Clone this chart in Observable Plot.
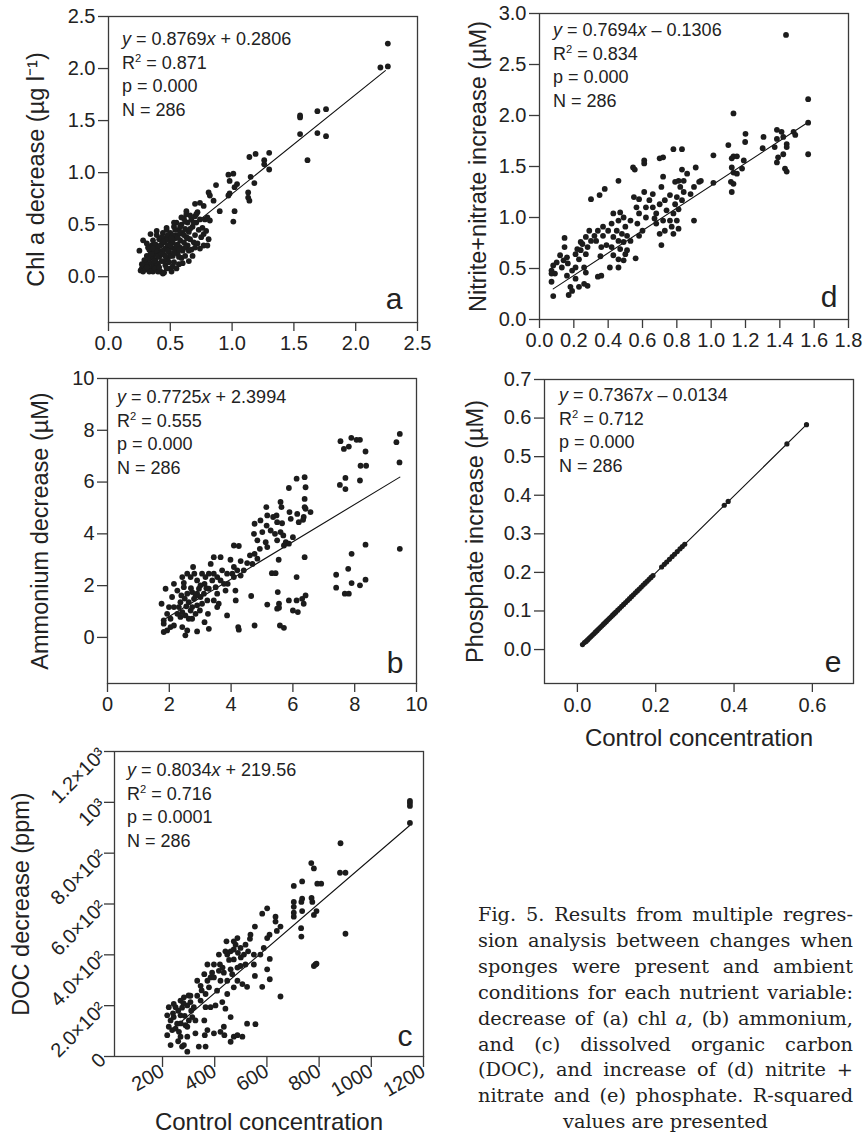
<!DOCTYPE html>
<html>
<head>
<meta charset="utf-8">
<script src="https://cdn.jsdelivr.net/npm/d3@7"></script>
<script src="https://cdn.jsdelivr.net/npm/@observablehq/plot@0.6"></script>
<style>
  html, body { margin: 0; padding: 0; background: #fff; }
  #page { position: relative; width: 863px; height: 1136px; overflow: hidden; background: #fff; }
  .panel { position: absolute; }
  .panel svg { overflow: visible; }
  .ann { position: absolute; font-family: "Liberation Sans", Arial, Helvetica, sans-serif; font-size: 18px; line-height: 23.5px; color: #222; white-space: nowrap; }
  .ann sup { font-size: 0.62em; line-height: 0; vertical-align: 0.6em; }
  #caption { position: absolute; left: 478px; top: 902px; width: 375px; font-family: "DejaVu Serif", "Liberation Serif", serif; font-size: 19.3px; line-height: 25.9px; color: #222; }
  #caption div { white-space: nowrap; text-align: justify; text-align-last: justify; }
  #caption div.last { text-align: center; text-align-last: center; }
</style>
</head>
<body>
<div id="page"></div>
<script>
// ---------------- DATA ----------------
// Panel a: Chl a (control concentration, decrease)
const chlPoints = [
  [0.25,0.25],[0.26,0.06],[0.27,0.08],[0.28,0.05],[0.29,0.10],[0.30,0.07],[0.30,0.14],[0.31,0.20],[0.31,0.32],[0.32,0.12],
  [0.33,0.17],[0.33,0.26],[0.34,0.08],[0.34,0.22],[0.35,0.30],[0.35,0.13],[0.36,0.19],[0.36,0.35],[0.37,0.10],[0.37,0.26],
  [0.38,0.16],[0.38,0.31],[0.39,0.22],[0.39,0.40],[0.40,0.12],[0.40,0.28],[0.41,0.19],[0.41,0.36],[0.42,0.05],[0.42,0.24],
  [0.43,0.31],[0.43,0.15],[0.44,0.42],[0.44,0.03],[0.45,0.21],[0.45,0.33],[0.46,0.27],[0.46,0.11],[0.47,0.38],[0.47,0.45],
  [0.48,0.18],[0.48,0.30],[0.49,0.24],[0.49,0.35],[0.50,0.08],[0.50,0.42],[0.51,0.05],[0.51,0.28],[0.52,0.33],[0.52,0.20],
  [0.53,0.48],[0.53,0.14],[0.54,0.37],[0.54,0.26],[0.55,0.40],[0.55,0.52],[0.56,0.22],[0.56,0.31],[0.57,0.45],[0.57,0.12],
  [0.58,0.35],[0.58,0.28],[0.59,0.50],[0.59,0.18],[0.60,0.42],[0.60,0.25],[0.61,0.56],[0.61,0.33],[0.62,0.46],[0.62,0.20],
  [0.63,0.38],[0.63,0.60],[0.64,0.30],[0.64,0.52],[0.65,0.43],[0.65,0.15],[0.66,0.36],[0.67,0.55],[0.67,0.26],[0.68,0.48],
  [0.69,0.33],[0.70,0.58],[0.70,0.40],[0.71,0.52],[0.72,0.32],[0.72,0.62],[0.73,0.45],[0.74,0.55],[0.75,0.38],[0.76,0.47],
  [0.77,0.30],[0.78,0.55],[0.79,0.44],[0.33,0.05],[0.36,0.05],[0.38,0.08],[0.40,0.05],[0.45,0.04],[0.47,0.08],[0.49,0.14],
  [0.52,0.10],[0.55,0.08],[0.57,0.19],[0.60,0.13],[0.62,0.28],[0.65,0.25],[0.68,0.20],[0.70,0.28],[0.40,0.20],[0.42,0.30],
  [0.44,0.25],[0.46,0.36],[0.48,0.40],[0.50,0.30],[0.52,0.40],[0.54,0.45],[0.56,0.38],[0.58,0.42],[0.50,0.20],[0.45,0.15],
  [0.43,0.38],[0.38,0.25],[0.35,0.22],[0.32,0.28],[0.29,0.16],[0.27,0.12],[0.28,0.35],[0.34,0.41],[0.39,0.44],[0.47,0.47],
  [0.53,0.52],[0.59,0.57],[0.63,0.63],[0.66,0.59],[0.71,0.60],[0.80,0.57],[0.82,0.54],[0.81,0.36],[0.80,0.30],[0.77,0.41],
  [0.74,0.27],[0.70,0.70],[0.74,0.71],[0.77,0.68],[0.81,0.81],[0.82,0.78],[0.85,0.73],[0.87,0.88],[0.90,0.63],[0.97,0.98],
  [1.01,0.99],[1.04,0.89],[1.02,0.86],[0.98,0.80],[0.97,0.78],[0.98,0.92],[1.02,0.63],[1.01,0.53],[1.13,0.81],[1.13,0.76],
  [1.14,0.73],[1.15,0.96],[1.18,0.90],[1.19,1.18],[1.14,1.15],[1.30,1.19],[1.26,1.12],[1.26,1.08],[1.30,1.03],[1.61,1.12],
  [1.55,1.37],[1.69,1.38],[1.76,1.35],[1.55,1.55],[1.55,1.53],[1.69,1.59],[1.76,1.61],[2.20,2.01],[2.26,2.02],[2.26,2.24],
  [0.31,0.09],[0.39,0.13],[0.41,0.09],[0.43,0.22],[0.47,0.17],[0.51,0.37],[0.55,0.30],[0.57,0.26],[0.61,0.40],[0.64,0.37],
  [0.66,0.46],[0.69,0.52],[0.36,0.27],[0.44,0.34],[0.48,0.25],[0.53,0.23],[0.58,0.48],[0.62,0.53],[0.37,0.15],[0.46,0.20]
];
// Panel d: nitrite+nitrate
const nitPoints = [
  [1.436,2.79],[1.565,2.16],[1.565,1.93],[1.565,1.62],[1.13,2.02],[1.20,1.82],[1.198,1.74],[1.10,1.71],[1.305,1.79],[1.30,1.68],
  [1.383,1.86],[1.41,1.84],[1.42,1.79],[1.383,1.77],[1.37,1.69],[1.39,1.59],[1.383,1.54],[1.42,1.62],[1.44,1.72],[1.44,1.69],
  [1.43,1.48],[1.44,1.45],[1.48,1.84],[1.49,1.81],[1.13,1.60],[1.12,1.58],[1.15,1.60],[1.12,1.49],[1.13,1.44],[1.15,1.43],
  [1.115,1.35],[1.13,1.33],[1.12,1.25],[1.19,1.56],[1.18,1.48],[1.013,1.61],[1.013,1.34],[0.91,1.49],[0.93,1.35],[0.90,1.30],
  [0.90,0.97],[0.83,1.67],[0.78,1.67],[0.83,1.47],[0.86,1.43],[0.81,1.36],[0.79,1.35],[0.82,1.30],[0.84,1.25],[0.80,1.20],
  [0.83,1.17],[0.79,1.13],[0.81,1.08],[0.78,1.04],[0.80,0.97],[0.77,0.91],[0.81,0.89],[0.78,0.84],[0.72,1.59],[0.70,1.58],
  [0.72,1.40],[0.71,1.30],[0.66,1.23],[0.73,1.17],[0.70,1.13],[0.74,1.07],[0.68,1.04],[0.72,0.97],[0.68,0.94],[0.73,0.87],
  [0.70,0.84],[0.71,0.73],[0.61,1.56],[0.61,1.53],[0.61,1.25],[0.62,1.10],[0.58,1.04],[0.62,1.00],[0.57,0.94],[0.60,0.87],
  [0.58,0.82],[0.545,1.49],[0.555,1.47],[0.55,1.20],[0.58,1.18],[0.56,0.60],[0.46,1.36],[0.38,1.28],[0.35,1.22],[0.30,1.18],
  [0.43,1.04],[0.47,1.05],[0.49,1.00],[0.46,0.97],[0.42,0.94],[0.50,0.91],[0.45,0.87],[0.48,0.84],[0.51,0.82],[0.43,0.81],
  [0.46,0.77],[0.49,0.76],[0.42,0.71],[0.47,0.69],[0.51,0.68],[0.43,0.63],[0.46,0.59],[0.50,0.64],[0.41,0.51],[0.46,0.51],
  [0.37,0.91],[0.34,0.87],[0.37,0.82],[0.33,0.77],[0.36,0.71],[0.39,0.73],[0.355,0.62],[0.36,0.43],[0.34,0.42],[0.29,0.87],
  [0.27,0.81],[0.30,0.77],[0.25,0.74],[0.28,0.71],[0.24,0.68],[0.27,0.64],[0.21,0.64],[0.23,0.59],[0.26,0.51],[0.27,0.46],
  [0.21,0.51],[0.19,0.48],[0.21,0.40],[0.26,0.35],[0.28,0.33],[0.23,0.32],[0.19,0.28],[0.18,0.32],[0.17,0.24],[0.146,0.80],
  [0.146,0.71],[0.16,0.61],[0.14,0.58],[0.165,0.55],[0.13,0.51],[0.16,0.43],[0.10,0.56],[0.08,0.53],[0.07,0.48],[0.09,0.45],
  [0.07,0.45],[0.07,0.37],[0.08,0.23],[0.12,0.63],[0.22,0.69],[0.24,0.76],[0.32,0.82],[0.40,0.87],[0.53,0.97],[0.565,1.10],
  [0.64,1.17],[0.66,1.10],[0.67,0.99],[0.76,1.22],[0.88,1.23],[0.94,1.36],[0.84,1.36],[0.76,0.97],[0.53,0.77],[0.49,0.58]
];
// Panel b: ammonium
const ammPoints = [
  [7.54,7.58],[7.65,7.28],[7.81,7.37],[7.89,7.71],[8.06,7.63],[8.17,7.63],[8.35,7.18],[8.19,6.63],[8.37,6.63],[8.17,6.06],
  [7.70,6.16],[7.52,5.89],[7.70,5.73],[9.35,7.54],[9.46,7.86],[9.45,6.76],[9.46,3.42],[8.35,3.58],[7.90,3.23],[7.79,2.65],
  [7.40,2.42],[7.40,1.92],[7.68,1.69],[7.81,1.69],[7.90,2.10],[8.17,2.01],[8.35,2.23],[6.38,6.19],[6.12,6.13],[6.41,5.80],
  [5.87,5.77],[6.38,5.35],[6.38,5.03],[6.41,4.97],[6.57,4.84],[6.35,4.65],[6.19,4.45],[6.33,4.54],[6.14,4.77],[5.89,4.84],
  [5.93,4.58],[5.60,5.23],[5.63,5.03],[5.47,4.71],[5.49,4.45],[5.65,4.41],[5.60,4.07],[5.42,4.00],[5.69,3.94],[5.49,3.75],
  [5.77,3.68],[5.87,3.62],[5.71,3.55],[6.00,3.87],[5.28,4.13],[5.17,4.71],[5.14,5.03],[5.36,4.65],[5.15,4.32],[4.95,4.52],
  [5.01,4.07],[4.85,3.75],[5.12,3.68],[5.17,3.49],[4.93,3.42],[4.76,4.39],[4.74,4.00],[4.76,3.23],[4.61,3.17],[4.85,3.04],
  [4.69,2.84],[5.54,3.00],[5.32,2.48],[5.44,2.48],[6.38,3.10],[6.12,2.33],[6.41,1.62],[6.30,1.49],[6.35,1.30],[6.12,1.43],
  [5.87,1.43],[6.00,1.04],[6.16,0.98],[5.51,1.75],[5.55,1.30],[5.55,1.15],[5.49,1.11],[5.17,1.27],[5.58,0.46],[5.71,0.37],
  [4.65,1.60],[4.76,0.46],[4.25,0.30],[4.23,0.40],[4.09,3.55],[4.25,3.53],[3.98,3.00],[4.09,2.72],[4.31,2.95],[4.52,2.87],
  [4.41,2.59],[4.20,2.59],[4.04,2.46],[4.31,2.39],[4.14,1.81],[3.89,2.07],[4.15,1.43],[3.87,0.85],[4.09,2.33],[1.75,1.30],
  [1.88,1.88],[1.82,0.66],[1.82,0.53],[1.82,0.21],[1.93,0.27],[2.04,0.40],[2.15,0.46],[1.99,1.17],[2.09,1.56],[2.15,2.07],
  [2.42,2.33],[2.39,1.62],[2.31,1.17],[2.36,0.79],[2.52,0.08],[2.42,0.40],[2.47,2.11],[2.58,1.69],[2.63,1.36],[2.69,1.04],
  [2.74,0.72],[2.77,2.72],[2.81,2.46],[2.90,2.20],[2.96,1.88],[3.01,1.56],[2.90,1.24],[2.85,0.91],[2.90,0.23],[3.06,2.46],
  [3.14,2.07],[3.23,1.43],[3.28,2.46],[3.25,0.91],[3.28,0.33],[3.44,3.10],[3.34,2.84],[3.55,2.33],[3.50,1.94],[3.55,1.69],
  [3.66,3.10],[3.71,2.59],[3.77,2.07],[3.82,1.81],[3.60,1.30],[3.87,2.46],[2.58,0.27],[2.52,0.85],[2.63,0.72],[2.36,1.36],
  [2.26,1.81],[2.47,1.94],[2.74,1.75],[2.80,1.49],[3.01,2.01],[3.12,1.69],[3.06,1.30],[3.28,1.88],[3.39,2.20],[3.44,2.46],
  [3.66,2.20],[3.17,2.33],[2.69,2.33],[2.58,2.46],[2.90,1.69],[2.15,1.17],[2.26,0.91],[2.04,0.72],[1.93,0.91],[2.42,0.98],
  [2.74,1.17],[2.99,1.04],[3.14,0.59],[3.44,1.43],[3.55,1.17],[2.50,1.50],[2.70,1.90],[2.55,1.20],[2.85,1.60],[3.20,1.90]
];
// Panel c: DOC
const docPoints = [
  [1148,997],[1148,1006],[1148,986],[1148,919],[882,839],[880,723],[901,723],[901,483],[808,680],[793,680],
  [770,761],[780,740],[771,624],[774,608],[790,572],[780,557],[786,362],[780,356],[790,365],[703,671],
  [703,608],[703,589],[703,550],[735,689],[735,621],[732,608],[735,572],[731,505],[732,472],[703,566],
  [601,583],[582,562],[633,550],[633,531],[638,494],[652,511],[610,479],[601,466],[611,384],[601,343],
  [611,304],[652,236],[582,274],[524,274],[554,511],[535,463],[518,440],[528,414],[550,401],[554,317],
  [499,427],[489,408],[487,350],[499,356],[512,401],[473,382],[480,440],[461,414],[487,466],[473,453],
  [448,401],[445,453],[441,414],[461,343],[467,324],[448,298],[416,401],[420,362],[435,330],[397,362],
  [384,311],[378,272],[409,259],[360,324],[372,298],[346,278],[333,298],[365,246],[333,239],[307,239],
  [295,201],[282,233],[275,192],[269,162],[250,194],[243,155],[231,142],[224,117],[224,194],[218,162],
  [218,84],[231,45],[256,129],[263,97],[269,78],[275,39],[282,45],[295,19],[295,78],[326,91],
  [326,142],[339,39],[360,142],[362,84],[365,39],[372,104],[397,91],[422,97],[435,117],[437,84],
  [461,155],[461,58],[473,78],[487,84],[506,78],[524,129],[556,127],[441,188],[429,214],[403,201],
  [384,194],[314,155],[301,142],[288,123],[320,194],[365,194],[346,220],[397,311],[422,298],[416,337],
  [372,362],[473,272],[506,285],[550,362],[575,401],[588,427],[537,479],[518,362],[448,246],[487,298],
  [473,421],[307,214],[243,207],[269,220],[295,117],[237,104],[260,180],[285,160],[300,240],[350,260],
  [390,330],[430,350],[455,380],[500,390],[260,60],[250,110],[270,130],[310,180],[240,170],[280,210]
];
// Panel e: phosphate
const phoPoints = [
  [0.013,0.013],[0.018,0.018],[0.022,0.021],[0.026,0.025],[0.030,0.029],[0.034,0.033],[0.038,0.037],[0.042,0.041],
  [0.046,0.045],[0.050,0.049],[0.054,0.053],[0.058,0.057],[0.062,0.061],[0.066,0.065],[0.070,0.069],[0.074,0.073],
  [0.078,0.077],[0.082,0.081],[0.086,0.085],[0.090,0.089],[0.094,0.093],[0.098,0.097],[0.103,0.102],[0.108,0.107],
  [0.113,0.112],[0.118,0.117],[0.123,0.122],[0.128,0.127],[0.133,0.132],[0.138,0.137],[0.143,0.142],[0.148,0.147],
  [0.153,0.152],[0.158,0.157],[0.163,0.162],[0.168,0.167],[0.173,0.172],[0.178,0.177],[0.183,0.182],[0.188,0.187],
  [0.193,0.192],[0.215,0.214],[0.222,0.221],[0.228,0.227],[0.235,0.234],[0.242,0.241],[0.248,0.247],[0.255,0.254],
  [0.262,0.261],[0.268,0.267],[0.274,0.273],[0.375,0.374],[0.385,0.384],[0.535,0.533],[0.585,0.583]
];
// Fitted lines as drawn (endpoints)
const chlFit = [[0.27,0.10],[2.24,1.98]];
const nitFit = [[0.08,0.30],[1.565,1.934]];
const ammFit = [[1.82,0.68],[9.46,6.19]];
const docFit = [[230,100],[1147,909]];
const phoFit = [[0.0136,0.013],[0.585,0.583]];

// Tick values / labels
const chlTicks = [0, 0.5, 1.0, 1.5, 2.0, 2.5];
const nitXTicks = [0, 0.2, 0.4, 0.6, 0.8, 1.0, 1.2, 1.4, 1.6, 1.8];
const nitYTicks = [0, 0.5, 1.0, 1.5, 2.0, 2.5, 3.0];
const ammTicks = [0, 2, 4, 6, 8, 10];
const phoXTicks = [0, 0.2, 0.4, 0.6];
const phoYTicks = [0, 0.1, 0.2, 0.3, 0.4, 0.5, 0.6, 0.7];
const docXTicks = [200, 400, 600, 800, 1000, 1200];
const docXLabels = ["200", "400", "600", "800", "1000", "1200"];
const docYTicks = [0, 200, 400, 600, 800, 1000, 1200];
const docYLabels = ["0", "2.0×10²", "4.0×10²", "6.0×10²", "8.0×10²", "10³", "1.2×10³"];

// Statistics text
const panelLetters = ["a", "d", "b", "e", "c"];
const equations = [
  ["0.8769", "+ 0.2806"], ["0.7694", "\u2013 0.1306"], ["0.7725", "+ 2.3994"], ["0.7367", "\u2013 0.0134"], ["0.8034", "+ 219.56"]
];
const rSquared = ["0.871", "0.834", "0.555", "0.712", "0.716"];
const pValues = ["0.000", "0.000", "0.000", "0.000", "0.0001"];
const nValues = [286, 286, 286, 286, 286];

const yLabels = ["Chl a decrease (µg l\u207B\u00B9)", "Nitrite+nitrate increase (µM)", "Ammonium decrease (µM)", "Phosphate increase (µM)", "DOC decrease (ppm)"];
const xLabel = "Control concentration";

const captionLines = [
  "Fig. 5. Results from multiple regres-",
  "sion analysis between changes when",
  "sponges were present and ambient",
  "conditions for each nutrient variable:",
  "decrease of (a) chl <i>a</i>, (b) ammonium,",
  "and (c) dissolved organic carbon",
  "(DOC), and increase of (d) nitrite +",
  "nitrate and (e) phosphate. R-squared",
  "values are presented"
];

// ---------------- DRAWING ----------------
const FONT = '"Liberation Sans", Arial, Helvetica, sans-serif';
const INK = "#1c1c1c";
const AXIS = "#3a3a3a";
const TICKFONT = 20;
const page = document.getElementById("page");

function panel(cfg) {
  const marks = [
    Plot.frame({stroke: AXIS, strokeWidth: 1.3}),
    Plot.axisX({ticks: cfg.xTicks, tickSize: cfg.xTickSize ?? 9, tickPadding: cfg.xTickPadding ?? 4,
      tickFormat: cfg.xFormat, tickRotate: cfg.xRotate ?? 0, label: null, stroke: AXIS, strokeWidth: 1.3,
      fontSize: TICKFONT, fill: "#222"}),
    Plot.axisY({ticks: cfg.yTicks, tickSize: 10, tickPadding: cfg.yTickPadding ?? 3,
      tickFormat: cfg.yFormat, tickRotate: cfg.yRotate ?? 0, label: null, stroke: AXIS, strokeWidth: 1.3,
      fontSize: TICKFONT, fill: "#222"}),
    Plot.axisY({ticks: [], tickSize: 0, label: cfg.yLabel, labelAnchor: "center", labelOffset: cfg.yLabelOffset,
      labelArrow: "none", fontSize: 23.5, fill: "#222"})
  ];
  if (cfg.xLabel) {
    marks.push(Plot.axisX({ticks: [], tickSize: 0, label: cfg.xLabel, labelAnchor: "center", labelOffset: cfg.xLabelOffset,
      labelArrow: "none", fontSize: 24, fill: "#222"}));
  }
  marks.push(
    Plot.line(cfg.fit, {x: d => d[0], y: d => d[1], stroke: "#111", strokeWidth: 1.1}),
    Plot.dot(cfg.points, {x: d => d[0], y: d => d[1], r: cfg.r ?? 2.9, fill: INK, stroke: "none"}),
    Plot.text([cfg.letter], {text: d => d, frameAnchor: "bottom-right", textAnchor: "end", lineAnchor: "bottom",
      dx: cfg.letterDx ?? -13, dy: cfg.letterDy ?? -12, fontSize: 30, fill: "#222"})
  );
  const svg = Plot.plot({
    width: cfg.w, height: cfg.h,
    marginLeft: cfg.mL, marginRight: cfg.mR, marginTop: cfg.mT, marginBottom: cfg.mB,
    style: {fontFamily: FONT, fontSize: TICKFONT + "px", color: "#222", background: "transparent", overflow: "visible"},
    x: {domain: cfg.xDomain},
    y: {domain: cfg.yDomain},
    marks
  });
  const holder = document.createElement("div");
  holder.className = "panel";
  holder.style.left = cfg.left + "px";
  holder.style.top = cfg.top + "px";
  holder.appendChild(svg);
  page.appendChild(holder);
}

function annotation(i, left, top) {
  const div = document.createElement("div");
  div.className = "ann";
  div.style.left = left + "px";
  div.style.top = top + "px";
  div.innerHTML =
    `<div><i>y</i> = ${equations[i][0]}<i>x</i> ${equations[i][1]}</div>` +
    `<div>R<sup>2</sup> = ${rSquared[i]}</div>` +
    `<div>p = ${pValues[i]}</div>` +
    `<div>N = ${nValues[i]}</div>`;
  page.appendChild(div);
}

const f1 = d3.format(".1f");

// a
panel({left: 0, top: 0, w: 430, h: 360, mL: 108, mR: 13, mT: 16, mB: 38,
  xDomain: [0, 2.5], yDomain: [-0.44, 2.5], xTicks: chlTicks, yTicks: chlTicks, xFormat: f1, yFormat: f1,
  yLabel: yLabels[0], yLabelOffset: 81, points: chlPoints, fit: chlFit, letter: panelLetters[0], letterDx: -15, letterDy: -14});
annotation(0, 122, 28);

// d
panel({left: 430, top: 0, w: 433, h: 360, mL: 109, mR: 15, mT: 13, mB: 41,
  xDomain: [0, 1.8], yDomain: [0, 3.0], xTicks: nitXTicks, yTicks: nitYTicks, xFormat: f1, yFormat: f1,
  yLabel: yLabels[1], yLabelOffset: 70, points: nitPoints, fit: nitFit, letter: panelLetters[1], letterDx: -11, letterDy: -13});
annotation(1, 553, 19);

// b
panel({left: 0, top: 350, w: 430, h: 375, mL: 107, mR: 14, mT: 28, mB: 42,
  xDomain: [0, 10], yDomain: [-1.78, 10], xTicks: ammTicks, yTicks: ammTicks, xFormat: d3.format("d"), yFormat: d3.format("d"),
  yLabel: yLabels[2], yLabelOffset: 76, points: ammPoints, fit: ammFit, letter: panelLetters[2], letterDx: -13, letterDy: -11});
annotation(2, 117, 386);

// e
panel({left: 430, top: 350, w: 433, h: 400, mL: 114, mR: 10, mT: 29, mB: 67,
  xDomain: [-0.084, 0.705], yDomain: [-0.088, 0.7], xTicks: phoXTicks, yTicks: phoYTicks, xFormat: f1, yFormat: f1,
  yLabel: yLabels[3], yLabelOffset: 78, xLabel: xLabel, xLabelOffset: 62, xTickPadding: 5,
  points: phoPoints, fit: phoFit, r: 2.6, letter: panelLetters[3], letterDx: -12, letterDy: -12});
annotation(3, 559, 384);

// c
panel({left: 0, top: 725, w: 430, h: 411, mL: 114, mR: 7, mT: 26, mB: 80,
  xDomain: [16, 1200], yDomain: [0, 1200], xTicks: docXTicks, yTicks: docYTicks,
  xFormat: d => docXLabels[docXTicks.indexOf(d)], yFormat: d => docYLabels[docYTicks.indexOf(d)],
  xRotate: -30, yRotate: -45, xTickSize: 11, xTickPadding: 2, yTickPadding: 2,
  yLabel: yLabels[4], yLabelOffset: 102, xLabel: xLabel, xLabelOffset: 73,
  points: docPoints, fit: docFit, letter: panelLetters[4], letterDx: -11, letterDy: -11});
annotation(4, 127, 759);

// caption
const cap = document.createElement("div");
cap.id = "caption";
cap.innerHTML = captionLines.map((t, i) => `<div class="${i === captionLines.length - 1 ? "last" : ""}">${t}</div>`).join("");
page.appendChild(cap);
</script>
</body>
</html>
